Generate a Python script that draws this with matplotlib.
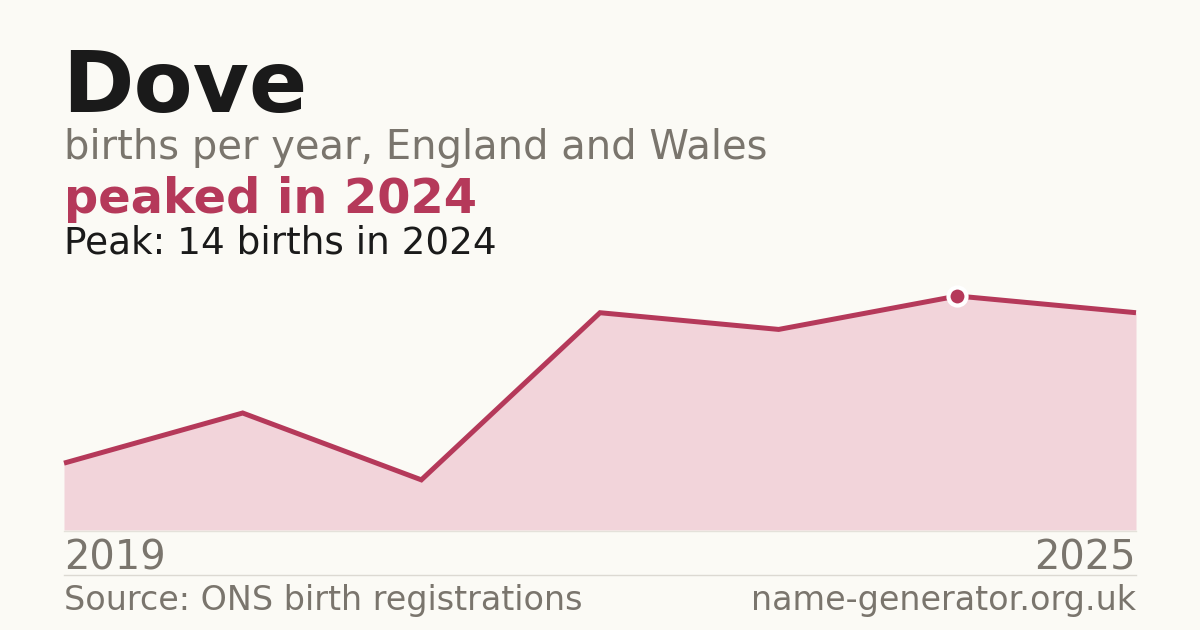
import matplotlib
matplotlib.use("Agg")
import matplotlib.pyplot as plt
from matplotlib.lines import Line2D

plt.rcParams["font.family"] = ["DejaVu Sans"]

years = [2019, 2020, 2021, 2022, 2023, 2024, 2025]
births = [4, 7, 3, 13, 12, 14, 13]
peak_year = 2024
peak_value = 14

BG = "#fbfaf5"
CRIMSON = "#b5395a"
FILL = "#f2d4da"
GRAY = "#7a756d"
DARK = "#1a1a1a"

W, H = 1200, 630
fig = plt.figure(figsize=(12, 6.3), dpi=100, facecolor=BG)

def fy(py):
    return 1 - py / H

ax = fig.add_axes([64 / W, fy(530), (1136 - 64) / W, (530 - 296) / H])
ax.set_facecolor(BG)
ax.fill_between(years, births, 0, color=FILL, linewidth=0)
ax.plot(years, births, color=CRIMSON, linewidth=3.6, solid_joinstyle="miter",
        solid_capstyle="butt", clip_on=False)
ax.plot([peak_year], [peak_value], marker="o", markersize=13, markerfacecolor=CRIMSON,
        markeredgecolor="white", markeredgewidth=3, clip_on=False, zorder=5)
ax.set_xlim(years[0], years[-1])
ax.set_ylim(0, peak_value)
ax.axis("off")

fig.add_artist(Line2D([64 / W, 1136 / W], [fy(530.5), fy(530.5)], color="#e4e1da", linewidth=1))
fig.add_artist(Line2D([64 / W, 1136 / W], [fy(574.5), fy(574.5)], color="#dcd9d2", linewidth=1))

fig.text(62 / W, fy(112), "Dove", fontsize=62, fontweight="bold", color=DARK, va="baseline", ha="left")
fig.text(64 / W, fy(159), "births per year, England and Wales", fontsize=28.8, color=GRAY, va="baseline", ha="left")
fig.text(64 / W, fy(213), "peaked in 2024", fontsize=34.5, fontweight="bold", color=CRIMSON, va="baseline", ha="left")
fig.text(64 / W, fy(253), f"Peak: {peak_value} births in {peak_year}", fontsize=26.9, color=DARK, va="baseline", ha="left")

fig.text(64 / W, fy(570), str(years[0]), fontsize=28.8, color=GRAY, va="baseline", ha="left")
fig.text(1136 / W, fy(570), str(years[-1]), fontsize=28.8, color=GRAY, va="baseline", ha="right")
fig.text(64 / W, fy(610), "Source: ONS birth registrations", fontsize=24, color=GRAY, va="baseline", ha="left")
fig.text(1136 / W, fy(610), "name-generator.org.uk", fontsize=24, color=GRAY, va="baseline", ha="right")

fig.savefig("out.png", dpi=100, facecolor=BG)
